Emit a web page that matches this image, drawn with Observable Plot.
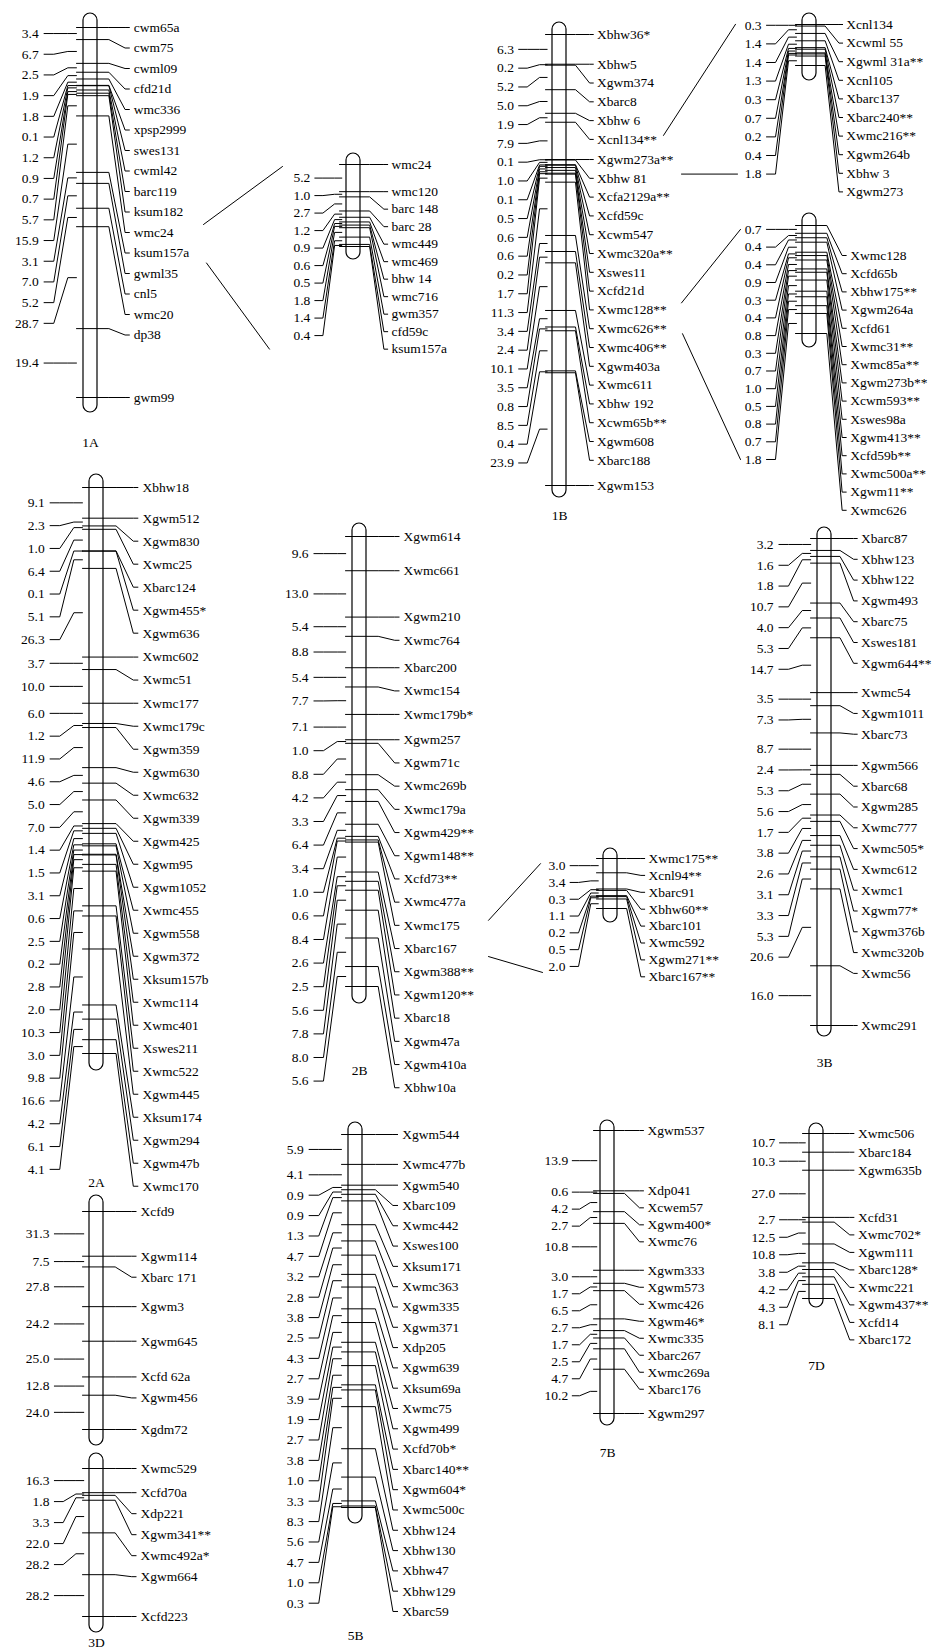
<!DOCTYPE html>
<html><head><meta charset="utf-8">
<script src="https://cdn.jsdelivr.net/npm/d3@7"></script>
<script src="https://cdn.jsdelivr.net/npm/@observablehq/plot@0.6"></script>
<style>html,body{margin:0;padding:0;background:#fff}</style>
</head><body><div id="chart"></div>
<script>
// ---------------- DATA: marker names and interval distances (cM) ----------------
const markers1A = ["cwm65a","cwm75","cwml09","cfd21d","wmc336","xpsp2999","swes131","cwml42","barc119","ksum182","wmc24","ksum157a","gwml35","cnl5","wmc20","dp38","gwm99"];
const dist1A = [3.4,6.7,2.5,1.9,1.8,0.1,1.2,0.9,0.7,5.7,15.9,3.1,7.0,5.2,28.7,19.4];

const markers1Ai = ["wmc24","wmc120","barc 148","barc 28","wmc449","wmc469","bhw 14","wmc716","gwm357","cfd59c","ksum157a"];
const dist1Ai = [5.2,1.0,2.7,1.2,0.9,0.6,0.5,1.8,1.4,0.4];

const markers1B = ["Xbhw36*","Xbhw5","Xgwm374","Xbarc8","Xbhw 6","Xcnl134**","Xgwm273a**","Xbhw 81","Xcfa2129a**","Xcfd59c","Xcwm547","Xwmc320a**","Xswes11","Xcfd21d","Xwmc128**","Xwmc626**","Xwmc406**","Xgwm403a","Xwmc611","Xbhw 192","Xcwm65b**","Xgwm608","Xbarc188","Xgwm153"];
const dist1B = [6.3,0.2,5.2,5.0,1.9,7.9,0.1,1.0,0.1,0.5,0.6,0.6,0.2,1.7,11.3,3.4,2.4,10.1,3.5,0.8,8.5,0.4,23.9];

const markers1Bt = ["Xcnl134","Xcwml 55","Xgwml 31a**","Xcnl105","Xbarc137","Xbarc240**","Xwmc216**","Xgwm264b","Xbhw 3","Xgwm273"];
const dist1Bt = [0.3,1.4,1.4,1.3,0.3,0.7,0.2,0.4,1.8];

const markers1Bb = ["Xwmc128","Xcfd65b","Xbhw175**","Xgwm264a","Xcfd61","Xwmc31**","Xwmc85a**","Xgwm273b**","Xcwm593**","Xswes98a","Xgwm413**","Xcfd59b**","Xwmc500a**","Xgwm11**","Xwmc626"];
const dist1Bb = [0.7,0.4,0.4,0.9,0.3,0.4,0.8,0.3,0.7,1.0,0.5,0.8,0.7,1.8];

const markers2A = ["Xbhw18","Xgwm512","Xgwm830","Xwmc25","Xbarc124","Xgwm455*","Xgwm636","Xwmc602","Xwmc51","Xwmc177","Xwmc179c","Xgwm359","Xgwm630","Xwmc632","Xgwm339","Xgwm425","Xgwm95","Xgwm1052","Xwmc455","Xgwm558","Xgwm372","Xksum157b","Xwmc114","Xwmc401","Xswes211","Xwmc522","Xgwm445","Xksum174","Xgwm294","Xgwm47b","Xwmc170"];
const dist2A = [9.1,2.3,1.0,6.4,0.1,5.1,26.3,3.7,10.0,6.0,1.2,11.9,4.6,5.0,7.0,1.4,1.5,3.1,0.6,2.5,0.2,2.8,2.0,10.3,3.0,9.8,16.6,4.2,6.1,4.1];

const markers2B = ["Xgwm614","Xwmc661","Xgwm210","Xwmc764","Xbarc200","Xwmc154","Xwmc179b*","Xgwm257","Xgwm71c","Xwmc269b","Xwmc179a","Xgwm429**","Xgwm148**","Xcfd73**","Xwmc477a","Xwmc175","Xbarc167","Xgwm388**","Xgwm120**","Xbarc18","Xgwm47a","Xgwm410a","Xbhw10a"];
const dist2B = [9.6,13.0,5.4,8.8,5.4,7.7,7.1,1.0,8.8,4.2,3.3,6.4,3.4,1.0,0.6,8.4,2.6,2.5,5.6,7.8,8.0,5.6];

const markers2Bi = ["Xwmc175**","Xcnl94**","Xbarc91","Xbhw60**","Xbarc101","Xwmc592","Xgwm271**","Xbarc167**"];
const dist2Bi = [3.0,3.4,0.3,1.1,0.2,0.5,2.0];

const markers3B = ["Xbarc87","Xbhw123","Xbhw122","Xgwm493","Xbarc75","Xswes181","Xgwm644**","Xwmc54","Xgwm1011","Xbarc73","Xgwm566","Xbarc68","Xgwm285","Xwmc777","Xwmc505*","Xwmc612","Xwmc1","Xgwm77*","Xgwm376b","Xwmc320b","Xwmc56","Xwmc291"];
const dist3B = [3.2,1.6,1.8,10.7,4.0,5.3,14.7,3.5,7.3,8.7,2.4,5.3,5.6,1.7,3.8,2.6,3.1,3.3,5.3,20.6,16.0];

const markers3Da = ["Xcfd9","Xgwm114","Xbarc 171","Xgwm3","Xgwm645","Xcfd 62a","Xgwm456","Xgdm72"];
const dist3Da = [31.3,7.5,27.8,24.2,25.0,12.8,24.0];

const markers3Db = ["Xwmc529","Xcfd70a","Xdp221","Xgwm341**","Xwmc492a*","Xgwm664","Xcfd223"];
const dist3Db = [16.3,1.8,3.3,22.0,28.2,28.2];

const markers5B = ["Xgwm544","Xwmc477b","Xgwm540","Xbarc109","Xwmc442","Xswes100","Xksum171","Xwmc363","Xgwm335","Xgwm371","Xdp205","Xgwm639","Xksum69a","Xwmc75","Xgwm499","Xcfd70b*","Xbarc140**","Xgwm604*","Xwmc500c","Xbhw124","Xbhw130","Xbhw47","Xbhw129","Xbarc59"];
const dist5B = [5.9,4.1,0.9,0.9,1.3,4.7,3.2,2.8,3.8,2.5,4.3,2.7,3.9,1.9,2.7,3.8,1.0,3.3,8.3,5.6,4.7,1.0,0.3];

const markers7B = ["Xgwm537","Xdp041","Xcwem57","Xgwm400*","Xwmc76","Xgwm333","Xgwm573","Xwmc426","Xgwm46*","Xwmc335","Xbarc267","Xwmc269a","Xbarc176","Xgwm297"];
const dist7B = [13.9,0.6,4.2,2.7,10.8,3.0,1.7,6.5,2.7,1.7,2.5,4.7,10.2];

const markers7D = ["Xwmc506","Xbarc184","Xgwm635b","Xcfd31","Xwmc702*","Xgwm111","Xbarc128*","Xwmc221","Xgwm437**","Xcfd14","Xbarc172"];
const dist7D = [10.7,10.3,27.0,2.7,12.5,10.8,3.8,4.2,4.3,8.1];

const chromData = {
  "1A": [markers1A, dist1A], "1Ai": [markers1Ai, dist1Ai],
  "1B": [markers1B, dist1B], "1Bt": [markers1Bt, dist1Bt], "1Bb": [markers1Bb, dist1Bb],
  "2A": [markers2A, dist2A], "2B": [markers2B, dist2B], "2Bi": [markers2Bi, dist2Bi],
  "3B": [markers3B, dist3B], "3Da": [markers3Da, dist3Da], "3Db": [markers3Db, dist3Db],
  "5B": [markers5B, dist5B], "7B": [markers7B, dist7B], "7D": [markers7D, dist7D]
};

// ---------------- LAYOUT (pixel placement of each linkage group) ----------------
// kR / kL scale the horizontal reach of right (marker) and left (distance) labels
const layout = [
  {id:"1A",  cx:90,  yFirst:27,   yLast:397,  barTop:13,   barBot:412,  gapR:20.5, gapL:20.7, kR:1.08, kL:1.08, caption:"1A", captionY:442},
  {id:"1Ai", cx:353, yFirst:164,  yLast:246,  barTop:153,  barBot:259,  gapR:17.5, gapL:17.5, kR:0.95, kL:0.9},
  {id:"1B",  cx:559, yFirst:34,   yLast:485,  barTop:22,   barBot:497,  gapR:18.8, gapL:18.8, kR:0.94, kL:0.95, caption:"1B", captionY:515},
  {id:"1Bt", cx:809, yFirst:24,   yLast:65,   barTop:13,   barBot:80,   gapR:18.6, gapL:18.6, kR:0.92, kL:1.0},
  {id:"1Bb", cx:809, yFirst:225,  yLast:333,  barTop:213,  barBot:347,  gapR:18.2, gapL:17.7, kR:1.02, kL:1.0, rightStart:255},
  {id:"2A",  cx:96,  yFirst:487,  yLast:1053, barTop:474,  barBot:1070, gapR:23,   gapL:22.8, kR:1.15, kL:1.08, caption:"2A", captionY:1182},
  {id:"2B",  cx:359, yFirst:536,  yLast:986,  barTop:523,  barBot:1003, gapR:23.2, gapL:23.6, kR:1.1,  kL:1.06, caption:"2B", captionY:1070},
  {id:"2Bi", cx:610, yFirst:858,  yLast:908,  barTop:848,  barBot:922,  gapR:16.9, gapL:16.8, kR:0.95, kL:0.94},
  {id:"3B",  cx:824, yFirst:538,  yLast:1025, barTop:527,  barBot:1036, gapR:20.8, gapL:20.8, kR:0.91, kL:1.06, caption:"3B", captionY:1062},
  {id:"3Da", cx:96,  yFirst:1211, yLast:1429, barTop:1195, barBot:1445, gapR:21,   gapL:21,   kR:1.1,  kL:0.98},
  {id:"3Db", cx:96,  yFirst:1468, yLast:1616, barTop:1453, barBot:1632, gapR:21,   gapL:21,   kR:1.1,  kL:0.98, caption:"3D", captionY:1642},
  {id:"5B",  cx:355, yFirst:1134, yLast:1507, barTop:1122, barBot:1523, gapR:20.3, gapL:20.4, kR:1.17, kL:1.08, caption:"5B", captionY:1635},
  {id:"7B",  cx:607, yFirst:1130, yLast:1413, barTop:1120, barBot:1425, gapR:17,   gapL:17,   kR:1.0,  kL:0.82, caption:"7B", captionY:1452},
  {id:"7D",  cx:816, yFirst:1133, yLast:1298, barTop:1123, barBot:1307, gapR:17.5, gapL:17.5, kR:1.04, kL:0.86, caption:"7D", captionY:1365}
];

// connector lines from a main group to its enlarged inset
const links = [
  {from:"1A", marker:"wmc24",     dx1:113, dy1:-8, to:"1Ai", ref:"rightFirst", dx2:-71, dy2:2},
  {from:"1A", marker:"ksum157a",  dx1:116, dy1:10, to:"1Ai", ref:"rightLast",  dx2:-84, dy2:0},
  {from:"1B", marker:"Xcnl134**", dx1:104, dy1:-4, to:"1Bt", ref:"leftFirst",  dx2:-74, dy2:-1},
  {from:"1B", marker:"Xgwm273a**",dx1:122, flat:true, to:"1Bt", ref:"leftLast", dx2:-72, dy2:0},
  {from:"1B", marker:"Xwmc128**", dx1:122, dy1:-7, to:"1Bb", ref:"leftFirst",  dx2:-69, dy2:0},
  {from:"1B", marker:"Xwmc626**", dx1:123, dy1:5,  to:"1Bb", ref:"leftLast",   dx2:-69, dy2:0},
  {from:"2B", marker:"Xwmc175",   dx1:129, dy1:-5, to:"2Bi", ref:"leftFirst",  dx2:-70, dy2:-2},
  {from:"2B", marker:"Xbarc167",  dx1:129, dy1:8,  to:"2Bi", ref:"leftLast",   dx2:-68, dy2:6}
];

// ---------------- BUILD GEOMETRY ----------------
function spread(ideal, gap, start) {
  const out = []; let prev = -Infinity;
  ideal.forEach((v, i) => {
    let p = Math.max(v, prev + gap);
    if (i === 0 && start != null) p = Math.max(p, start);
    out.push(p); prev = p;
  });
  return out;
}

const bars = [], paths = [], texts = [], info = {};
let pid = 0;
function addPath(pts) { const id = pid++; pts.forEach(([x, y]) => paths.push({id, x, y})); }

for (const L of layout) {
  const [markers, dist] = chromData[L.id];
  const cum = [0, ...d3.cumsum(dist)];
  const y = d3.scaleLinear().domain([0, cum[cum.length - 1]]).range([L.yFirst, L.yLast]);
  const kR = L.kR, kL = L.kL, cx = L.cx, hw = 7;
  const tickY = cum.map(y);
  const rightY = spread(tickY, L.gapR, L.rightStart);
  const midY = dist.map((d, i) => (tickY[i] + tickY[i + 1]) / 2);
  const leftY = spread(midY, L.gapL);
  bars.push({x1: cx - hw, x2: cx + hw, y1: L.barTop, y2: L.barBot});
  markers.forEach((m, i) => {
    addPath([[cx - 14, tickY[i]], [cx + 17 * kR, tickY[i]], [cx + 32 * kR, rightY[i]], [cx + 36 * kR, rightY[i]]]);
    texts.push({x: cx + 40 * kR, y: rightY[i], text: m, anchor: "start"});
  });
  dist.forEach((d, i) => {
    addPath([[cx - 43 * kL, leftY[i]], [cx - 34 * kL, leftY[i]], [cx - 21 * kL, midY[i]], [cx - 13 * kL, midY[i]]]);
    texts.push({x: cx - 48 * kL, y: leftY[i], text: d.toFixed(1), anchor: "end"});
  });
  if (L.caption) texts.push({x: cx, y: L.captionY, text: L.caption, anchor: "middle"});
  info[L.id] = {cx, markers, rightY, leftY};
}

for (const ln of links) {
  const A = info[ln.from], B = info[ln.to];
  const refY = {
    rightFirst: B.rightY[0], rightLast: B.rightY[B.rightY.length - 1],
    leftFirst: B.leftY[0], leftLast: B.leftY[B.leftY.length - 1]
  }[ln.ref] + ln.dy2;
  const y1 = ln.flat ? refY : A.rightY[A.markers.indexOf(ln.marker)] + ln.dy1;
  addPath([[A.cx + ln.dx1, y1], [B.cx + ln.dx2, refY]]);
}

// ---------------- PLOT ----------------
const FONT = '"Liberation Serif","Times New Roman",Times,serif';
const textOpts = (anchor) => ({x: "x", y: "y", text: "text", textAnchor: anchor, fontSize: 13.5, fill: "black", fontFamily: FONT});
const chart = Plot.plot({
  width: 933, height: 1652, margin: 0,
  x: {type: "identity", axis: null},
  y: {type: "identity", axis: null},
  style: {background: "#fff", color: "#000", fontFamily: FONT},
  marks: [
    Plot.rect(bars, {x1: "x1", x2: "x2", y1: "y1", y2: "y2", fill: "white", stroke: "black", strokeWidth: 1.2, rx: 7, ry: 7}),
    Plot.line(paths, {x: "x", y: "y", z: "id", stroke: "black", strokeWidth: 1, curve: "linear"}),
    Plot.text(texts.filter(t => t.anchor === "start"), textOpts("start")),
    Plot.text(texts.filter(t => t.anchor === "end"), textOpts("end")),
    Plot.text(texts.filter(t => t.anchor === "middle"), textOpts("middle"))
  ]
});
document.getElementById("chart").appendChild(chart);
</script>
</body></html>
